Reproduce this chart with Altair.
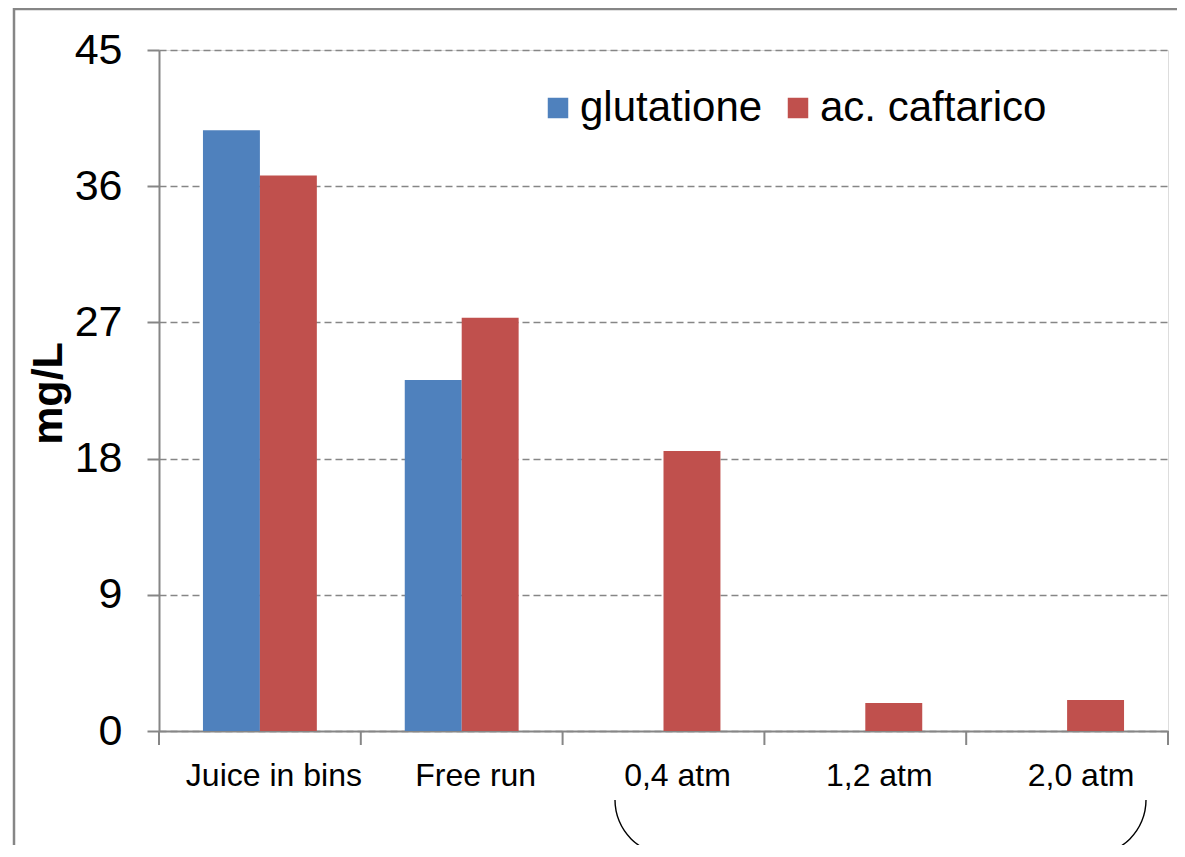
import altair as alt
import pandas as pd

categories = ["Juice in bins", "Free run", "0,4 atm", "1,2 atm", "2,0 atm"]
series_names = ["glutatione", "ac. caftarico"]
glutatione = [39.7, 23.2, 0, 0, 0]
caftarico = [36.7, 27.3, 18.5, 1.85, 2.05]
y_ticks = [0, 9, 18, 27, 36, 45]
colors = ["#4F81BD", "#C0504D"]

rows = []
for c, g, k in zip(categories, glutatione, caftarico):
    rows.append({"cat": c, "series": series_names[0], "value": g})
    rows.append({"cat": c, "series": series_names[1], "value": k})
df = pd.DataFrame(rows)
cat_df = pd.DataFrame({"cat": categories})
one = pd.DataFrame({"a": [0]})

GRAY = "#868686"
FONT = "Liberation Sans"

x_axis = alt.Axis(title=None, labelAngle=0, ticks=False, tickSize=0, domain=True,
                  domainColor=GRAY, domainWidth=2, labelFontSize=32, labelColor="black",
                  labelPadding=29, labelFont=FONT, grid=False, labelOffset=14)
x_enc_scale = alt.Scale(domain=categories, paddingInner=0, paddingOuter=0)

bars = alt.Chart(df).mark_bar().encode(
    x=alt.X("cat:N", sort=categories, scale=x_enc_scale, axis=x_axis),
    xOffset=alt.XOffset("series:N", sort=series_names,
                        scale=alt.Scale(domain=series_names, paddingOuter=0.772, paddingInner=0)),
    y=alt.Y("value:Q", scale=alt.Scale(domain=[0, 45], nice=False),
            axis=alt.Axis(values=y_ticks, grid=True, gridDash=[7, 4], gridColor=GRAY, gridWidth=1.5,
                          tickSize=12, tickColor=GRAY, tickWidth=2, domainColor=GRAY, domainWidth=2,
                          labelFontSize=43, labelColor="black", labelPadding=25, labelFont=FONT,
                          title="mg/L", titleFontSize=43, titleFontWeight="bold", titleColor="black",
                          titleFont=FONT, titleAngle=270, titleX=-111, titleY=343,
                          titleAlign="center", titleBaseline="middle")),
    color=alt.Color("series:N", sort=series_names,
                    scale=alt.Scale(domain=series_names, range=colors),
                    legend=alt.Legend(orient="none", legendX=378, legendY=37, direction="horizontal",
                                      title=None, symbolType="square", symbolSize=420,
                                      symbolStrokeWidth=0, symbolOpacity=1, labelFontSize=42,
                                      labelColor="black", labelFont=FONT, columnPadding=14,
                                      labelOffset=1, padding=0, columns=2, labelLimit=0)),
)

ticks = alt.Chart(cat_df).mark_rule(color=GRAY, strokeWidth=2).encode(
    x=alt.X("cat:N", sort=categories, scale=x_enc_scale, axis=x_axis, bandPosition=1),
    y=alt.value(681), y2=alt.value(695),
)
tick0 = alt.Chart(one).mark_rule(color=GRAY, strokeWidth=2).encode(
    x=alt.value(0), y=alt.value(681), y2=alt.value(695),
)

border = alt.Chart(one).mark_rect(fillOpacity=0, stroke=GRAY, strokeWidth=2.5).encode(
    x=alt.value(-145), x2=alt.value(1100), y=alt.value(-41), y2=alt.value(900),
)

arc_left = alt.Chart(one).mark_arc(theta=3.14159, theta2=4.71239, radius=55.7, radius2=54.3,
                                   color="black").encode(x=alt.value(511), y=alt.value(750))
arc_right = alt.Chart(one).mark_arc(theta=1.5708, theta2=3.14159, radius=55.7, radius2=54.3,
                                    color="black").encode(x=alt.value(932), y=alt.value(750))

chart = alt.layer(border, bars, ticks, tick0, arc_left, arc_right).properties(
    width=1009, height=681,
    autosize=alt.AutoSizeParams(type="none"),
    padding={"left": 151, "top": 42, "right": 9, "bottom": 114},
).configure_view(strokeWidth=0).configure(font=FONT)

chart.save("out.html", embed_options={"renderer": "svg", "actions": False})
